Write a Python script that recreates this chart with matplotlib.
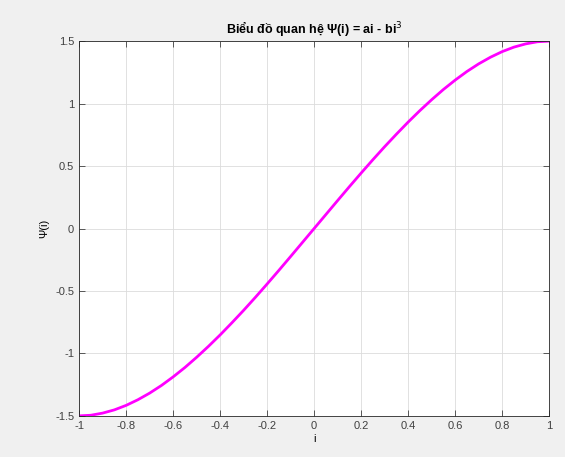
import matplotlib
matplotlib.use("Agg")
import matplotlib.pyplot as plt

# values at steps of 0.05
i_vals = [-1.0, -0.95, -0.9, -0.85, -0.8, -0.75, -0.7, -0.65, -0.6, -0.55, -0.5,
          -0.45, -0.4, -0.35, -0.3, -0.25, -0.2, -0.15, -0.1, -0.05, 0.0,
          0.05, 0.1, 0.15, 0.2, 0.25, 0.3, 0.35, 0.4, 0.45, 0.5,
          0.55, 0.6, 0.65, 0.7, 0.75, 0.8, 0.85, 0.9, 0.95, 1.0]
psi_vals = [-1.5, -1.495, -1.478, -1.452, -1.416, -1.371, -1.318, -1.257, -1.188, -1.113, -1.031,
            -0.944, -0.852, -0.755, -0.655, -0.551, -0.444, -0.335, -0.224, -0.112, 0.0,
            0.112, 0.224, 0.335, 0.444, 0.551, 0.655, 0.755, 0.852, 0.944, 1.031,
            1.113, 1.188, 1.257, 1.318, 1.371, 1.416, 1.452, 1.478, 1.495, 1.5]

x_ticks = [-1, -0.8, -0.6, -0.4, -0.2, 0, 0.2, 0.4, 0.6, 0.8, 1]
x_tick_labels = ["-1", "-0.8", "-0.6", "-0.4", "-0.2", "0", "0.2", "0.4", "0.6", "0.8", "1"]
y_ticks = [-1.5, -1, -0.5, 0, 0.5, 1, 1.5]
y_tick_labels = ["-1.5", "-1", "-0.5", "0", "0.5", "1", "1.5"]

plt.rcParams["font.family"] = ["Liberation Sans", "DejaVu Sans"]

fig = plt.figure(figsize=(5.65, 4.57), dpi=100, facecolor="#f0f0f0")
ax = fig.add_axes([0.140, 0.090, 0.832, 0.820])
ax.set_facecolor("white")

ax.plot(i_vals, psi_vals, color="#ff00ff", linewidth=2.0)

ax.set_xlim(-1, 1)
ax.set_ylim(-1.5, 1.5)
ax.set_xticks(x_ticks)
ax.set_xticklabels(x_tick_labels)
ax.set_yticks(y_ticks)
ax.set_yticklabels(y_tick_labels)
ax.tick_params(direction="in", length=4, width=0.6, colors="#404040",
               labelsize=8, top=True, right=True, labeltop=False, labelright=False)
ax.grid(True, color="#dcdcdc", linewidth=0.6)
ax.set_axisbelow(True)
for s in ax.spines.values():
    s.set_color("#262626")
    s.set_linewidth(0.6)

ax.set_title("Biểu đồ quan hệ Ψ(i) = ai - bi$^3$", fontsize=9, fontweight="bold", pad=6)
ax.set_xlabel("i", fontsize=8, labelpad=2)
ax.set_ylabel("Ψ(i)", fontsize=8, labelpad=4)

fig.savefig("out.png", dpi=100, facecolor=fig.get_facecolor())
